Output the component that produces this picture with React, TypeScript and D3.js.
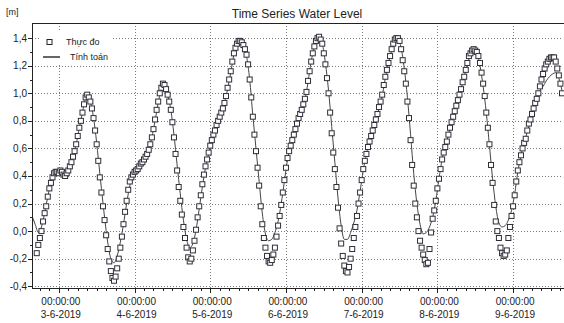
import { useEffect, useRef } from 'react'
import * as d3 from 'd3'

// Measured water level (m), every 30 min from 2-6-2019 17:00
const measuredLevels = [
  -0.16, -0.10, -0.05, 0.00, 0.07, 0.13, 0.18, 0.25, 0.31, 0.35, 0.39, 0.42, 0.43, 0.43,
  0.42, 0.44, 0.43, 0.41, 0.40, 0.42, 0.44, 0.47, 0.50, 0.54, 0.58, 0.63,
  0.69, 0.75, 0.80, 0.86, 0.92, 0.97, 0.99, 0.97, 0.94, 0.89, 0.82, 0.73,
  0.63, 0.51, 0.39, 0.28, 0.18, 0.08, -0.03, -0.13, -0.22, -0.29, -0.34, -0.36,
  -0.33, -0.27, -0.20, -0.12, -0.04, 0.05, 0.14, 0.22, 0.30, 0.36, 0.39, 0.41,
  0.43, 0.44, 0.45, 0.47, 0.49, 0.50, 0.52, 0.54, 0.56, 0.59, 0.63, 0.68,
  0.74, 0.81, 0.88, 0.94, 1.00, 1.04, 1.07, 1.06, 1.03, 0.99, 0.94, 0.88,
  0.79, 0.68, 0.56, 0.44, 0.32, 0.22, 0.12, 0.03, -0.05, -0.12, -0.19, -0.22,
  -0.20, -0.14, -0.07, 0.01, 0.10, 0.18, 0.26, 0.34, 0.41, 0.47, 0.52, 0.57,
  0.62, 0.66, 0.70, 0.73, 0.77, 0.80, 0.83, 0.86, 0.89, 0.93, 0.98, 1.04,
  1.10, 1.16, 1.23, 1.29, 1.33, 1.36, 1.38, 1.38, 1.37, 1.35, 1.32, 1.28,
  1.21, 1.10, 0.97, 0.83, 0.70, 0.58, 0.46, 0.33, 0.18, 0.05, -0.05, -0.12,
  -0.18, -0.22, -0.23, -0.21, -0.17, -0.12, -0.04, 0.04, 0.11, 0.19, 0.28, 0.37,
  0.46, 0.53, 0.58, 0.62, 0.66, 0.70, 0.74, 0.78, 0.82, 0.85, 0.88, 0.92,
  0.96, 1.01, 1.09, 1.16, 1.23, 1.29, 1.34, 1.38, 1.40, 1.41, 1.39, 1.36,
  1.29, 1.21, 1.11, 1.00, 0.86, 0.71, 0.57, 0.45, 0.32, 0.17, 0.02, -0.09,
  -0.18, -0.25, -0.29, -0.30, -0.26, -0.20, -0.13, -0.05, 0.03, 0.11, 0.20, 0.28,
  0.37, 0.45, 0.51, 0.56, 0.61, 0.65, 0.69, 0.73, 0.77, 0.81, 0.85, 0.90,
  0.94, 0.99, 1.06, 1.12, 1.17, 1.22, 1.27, 1.32, 1.36, 1.39, 1.40, 1.40,
  1.38, 1.32, 1.24, 1.16, 1.07, 0.94, 0.82, 0.66, 0.48, 0.33, 0.20, 0.10,
  0.00, -0.07, -0.12, -0.17, -0.21, -0.24, -0.23, -0.13, -0.01, 0.09, 0.15, 0.22,
  0.31, 0.38, 0.45, 0.52, 0.57, 0.61, 0.65, 0.70, 0.75, 0.79, 0.83, 0.87,
  0.91, 0.95, 0.99, 1.03, 1.08, 1.12, 1.17, 1.22, 1.27, 1.29, 1.31, 1.32,
  1.31, 1.30, 1.27, 1.22, 1.15, 1.07, 0.98, 0.86, 0.75, 0.63, 0.48, 0.35,
  0.19, 0.07, 0.00, -0.05, -0.12, -0.16, -0.18, -0.17, -0.14, -0.05, 0.03, 0.11,
  0.18, 0.26, 0.36, 0.44, 0.50, 0.55, 0.60, 0.64, 0.67, 0.73, 0.78, 0.81,
  0.85, 0.89, 0.93, 0.96, 1.00, 1.05, 1.10, 1.14, 1.18, 1.21, 1.23, 1.25,
  1.26, 1.26, 1.26, 1.23, 1.18, 1.13, 1.07, 1.00,
]

// Computed water level (m), hourly from 2-6-2019 15:30
const computedLevels = [
  0.11, 0.05, -0.01, 0.03, 0.13, 0.25, 0.35, 0.41, 0.43,
  0.43, 0.42, 0.43, 0.47, 0.54, 0.63, 0.75, 0.86, 0.96, 0.96, 0.89, 0.74,
  0.53, 0.31, 0.10, -0.08, -0.20, -0.23, -0.18, -0.08, 0.05, 0.20, 0.33, 0.40,
  0.44, 0.47, 0.50, 0.54, 0.59, 0.68, 0.80, 0.93, 1.03, 1.05, 0.99, 0.88,
  0.70, 0.48, 0.27, 0.08, -0.06, -0.12, -0.09, 0.01, 0.16, 0.32, 0.46, 0.56,
  0.65, 0.73, 0.80, 0.86, 0.93, 1.03, 1.15, 1.28, 1.35, 1.38, 1.35, 1.27,
  1.10, 0.84, 0.60, 0.36, 0.13, -0.02, -0.07, -0.06, -0.01, 0.07, 0.20, 0.36,
  0.52, 0.62, 0.70, 0.78, 0.85, 0.92, 1.01, 1.16, 1.29, 1.37, 1.40, 1.36,
  1.22, 1.02, 0.76, 0.50, 0.24, 0.04, -0.06, -0.06, -0.01, 0.06, 0.15, 0.29,
  0.44, 0.56, 0.65, 0.73, 0.81, 0.89, 0.98, 1.11, 1.22, 1.31, 1.38, 1.39,
  1.33, 1.18, 0.97, 0.70, 0.42, 0.20, 0.05, -0.02, -0.01, 0.03, 0.10, 0.22,
  0.38, 0.52, 0.61, 0.70, 0.79, 0.87, 0.95, 1.03, 1.12, 1.21, 1.28, 1.31,
  1.29, 1.20, 1.05, 0.86, 0.62, 0.38, 0.18, 0.06, 0.03, 0.04, 0.08, 0.15,
  0.27, 0.43, 0.55, 0.64, 0.72, 0.80, 0.88, 0.95, 1.02, 1.05, 1.09, 1.12,
  1.14, 1.15, 1.11, 1.02,
]

const measuredStart = new Date(2019, 5, 2, 17, 0)
const computedStart = new Date(2019, 5, 2, 15, 30)
const timeDomain = [new Date(2019, 5, 2, 15, 30), new Date(2019, 5, 9, 15, 30)]
const dayTicks = [3, 4, 5, 6, 7, 8, 9].map((d) => new Date(2019, 5, d))
const yTicks = [-0.4, -0.2, 0, 0.2, 0.4, 0.6, 0.8, 1.0, 1.2, 1.4]

const W = 564
const H = 323
const FONT = '"Liberation Sans", Arial, sans-serif'

interface Pt {
  t: Date
  v: number
}

const App = () => {
  const svgRef = useRef<SVGSVGElement>(null)

  useEffect(() => {
    if (!svgRef.current) return
    const svg = d3.select(svgRef.current)
    svg.selectAll('*').remove()

    const margin = { top: 23, right: 2, bottom: 34, left: 32 }
    const x0 = margin.left
    const x1 = W - margin.right
    const yTop = margin.top
    const yBot = H - margin.bottom

    const x = d3.scaleTime().domain(timeDomain).range([x0, x1])
    const y = d3.scaleLinear().domain([-0.42, 1.51]).range([yBot, yTop])

    const measured: Pt[] = measuredLevels.map((v, i) => ({
      t: d3.timeMinute.offset(measuredStart, i * 30),
      v,
    }))
    const computed: Pt[] = computedLevels.map((v, i) => ({
      t: d3.timeHour.offset(computedStart, i),
      v,
    }))

    svg.append('rect').attr('width', W).attr('height', H).attr('fill', '#fff')

    svg
      .append('defs')
      .append('clipPath')
      .attr('id', 'plot-clip')
      .append('rect')
      .attr('x', x0)
      .attr('y', yTop)
      .attr('width', x1 - x0 + 2)
      .attr('height', yBot - yTop)

    // Grid lines
    const grid = svg.append('g').attr('stroke', '#7a7a7a').attr('stroke-dasharray', '1,2')
    grid
      .selectAll('line.h')
      .data(yTicks)
      .enter()
      .append('line')
      .attr('x1', x0)
      .attr('x2', x1)
      .attr('y1', (d) => Math.round(y(d)) + 0.5)
      .attr('y2', (d) => Math.round(y(d)) + 0.5)
    grid
      .selectAll('line.v')
      .data(dayTicks)
      .enter()
      .append('line')
      .attr('x1', (d) => Math.round(x(d)) + 0.5)
      .attr('x2', (d) => Math.round(x(d)) + 0.5)
      .attr('y1', yTop)
      .attr('y2', yBot)

    const plot = svg.append('g').attr('clip-path', 'url(#plot-clip)')

    // Computed line
    const line = d3
      .line<Pt>()
      .x((d) => x(d.t))
      .y((d) => y(d.v))
      .curve(d3.curveMonotoneX)
    plot
      .append('path')
      .datum(computed)
      .attr('d', line)
      .attr('fill', 'none')
      .attr('stroke', '#444')
      .attr('stroke-width', 1)

    // Measured squares
    plot
      .selectAll('rect.obs')
      .data(measured)
      .enter()
      .append('rect')
      .attr('x', (d) => x(d.t) - 2.5)
      .attr('y', (d) => y(d.v) - 2.5)
      .attr('width', 5)
      .attr('height', 5)
      .attr('fill', '#fff')
      .attr('stroke', '#2e2e38')
      .attr('stroke-width', 1)

    // Frame: top border, left and bottom axes
    const axes = svg.append('g').attr('stroke', '#222').attr('shape-rendering', 'crispEdges')
    axes.append('line').attr('x1', x0).attr('x2', W).attr('y1', yTop + 0.5).attr('y2', yTop + 0.5)
    axes.append('line').attr('x1', x0 + 0.5).attr('x2', x0 + 0.5).attr('y1', yTop).attr('y2', yBot)
    axes.append('line').attr('x1', x0).attr('x2', W).attr('y1', yBot - 0.5).attr('y2', yBot - 0.5)

    // Y ticks (major + minor)
    const yMinor = d3.range(-0.4, 1.5, 0.1).map((d) => Math.round(d * 10) / 10)
    axes
      .selectAll('line.ym')
      .data(yMinor)
      .enter()
      .append('line')
      .attr('x1', (d) => (yTicks.some((t) => Math.abs(t - d) < 1e-6) ? x0 - 4 : x0 - 2))
      .attr('x2', x0)
      .attr('y1', (d) => Math.round(y(d)) + 0.5)
      .attr('y2', (d) => Math.round(y(d)) + 0.5)

    // X ticks (major days, minor every 3 hours)
    const xMinor = d3.timeHour.every(3)!.range(timeDomain[0], timeDomain[1])
    axes
      .selectAll('line.xm')
      .data(xMinor)
      .enter()
      .append('line')
      .attr('x1', (d) => Math.round(x(d)) + 0.5)
      .attr('x2', (d) => Math.round(x(d)) + 0.5)
      .attr('y1', yBot)
      .attr('y2', (d) => (d.getHours() === 0 ? yBot + 4 : yBot + 2))

    const fmtNum = (d: number) => d3.format('.1f')(d).replace('.', ',').replace('−', '-')

    svg
      .append('g')
      .selectAll('text')
      .data(yTicks)
      .enter()
      .append('text')
      .attr('x', x0 - 5)
      .attr('y', (d) => y(d))
      .attr('dy', '0.35em')
      .attr('text-anchor', 'end')
      .style('font-family', FONT)
      .style('font-size', '10px')
      .style('fill', '#222')
      .text(fmtNum)

    const fmtTime = d3.timeFormat('%H:%M:%S')
    const fmtDate = d3.timeFormat('%-d-%-m-%Y')
    const xl = svg
      .append('g')
      .selectAll('g')
      .data(dayTicks)
      .enter()
      .append('g')
      .attr('transform', (d) => `translate(${x(d) + 2},0)`)
    xl.append('text')
      .attr('y', yBot + 16)
      .attr('text-anchor', 'middle')
      .style('font-family', FONT)
      .style('font-size', '10px')
      .style('fill', '#222')
      .text((d) => fmtTime(d))
    xl.append('text')
      .attr('y', yBot + 29)
      .attr('text-anchor', 'middle')
      .style('font-family', FONT)
      .style('font-size', '10px')
      .style('fill', '#222')
      .text((d) => fmtDate(d))

    // Title and unit
    svg
      .append('text')
      .attr('x', 297)
      .attr('y', 18)
      .attr('text-anchor', 'middle')
      .style('font-family', FONT)
      .style('font-size', '12px')
      .style('fill', '#222')
      .text('Time Series Water Level')
    svg
      .append('text')
      .attr('x', 6)
      .attr('y', 15)
      .style('font-family', FONT)
      .style('font-size', '9px')
      .style('fill', '#222')
      .text('[m]')

    // Legend
    const legend = svg.append('g')
    legend.append('rect').attr('x', 40).attr('y', 32).attr('width', 72).attr('height', 31).attr('fill', '#fff')
    legend
      .append('rect')
      .attr('x', 47)
      .attr('y', 39.5)
      .attr('width', 5)
      .attr('height', 5)
      .attr('fill', '#fff')
      .attr('stroke', '#222')
    legend
      .append('text')
      .attr('x', 66)
      .attr('y', 45)
      .style('font-family', FONT)
      .style('font-size', '9px')
      .style('fill', '#222')
      .text('Thực đo')
    legend
      .append('line')
      .attr('x1', 43)
      .attr('x2', 60)
      .attr('y1', 57)
      .attr('y2', 57)
      .attr('stroke', '#333')
      .attr('stroke-width', 1.5)
    legend
      .append('text')
      .attr('x', 70)
      .attr('y', 60)
      .style('font-family', FONT)
      .style('font-size', '9px')
      .style('fill', '#222')
      .text('Tính toán')
  }, [])

  return (
    <svg
      ref={svgRef}
      width={W}
      height={H}
      style={{ position: 'absolute', left: 0, top: 0, display: 'block' }}
    />
  )
}

export default App
